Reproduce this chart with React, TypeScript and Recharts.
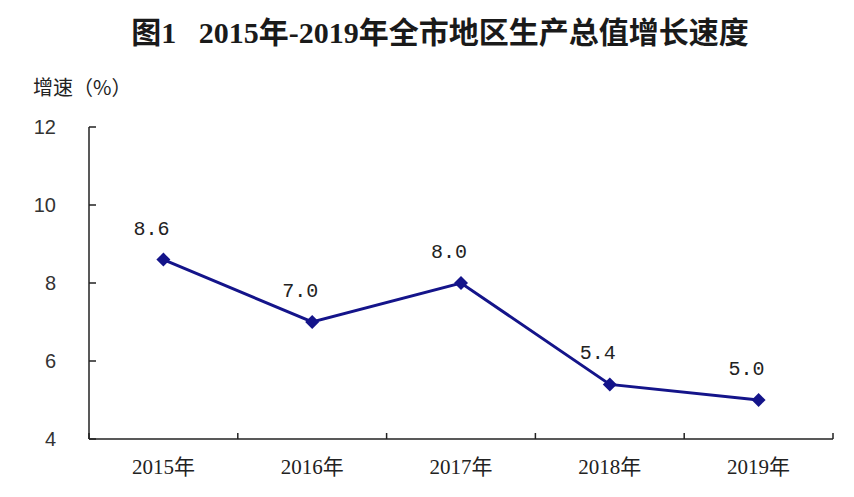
import { LineChart, Line, XAxis, YAxis, LabelList } from "recharts";

const years = ["2015年", "2016年", "2017年", "2018年", "2019年"];
const growth = [8.6, 7.0, 8.0, 5.4, 5.0];
const yTicks = [4, 6, 8, 10, 12];

// points sit in the middle of each year band, ticks on band edges
const data = years.map((year, i) => ({ pos: i + 0.5, year, growth: growth[i] }));
const xTicks = years.flatMap((_, i) => [i, i + 0.5]).concat([years.length]);

const navy = "#14148a";

function XTick(props: any) {
  const { x, y, payload } = props;
  const v = payload.value as number;
  if (Number.isInteger(v)) {
    return <line x1={x} y1={y} x2={x} y2={y - 6} stroke="#222" strokeWidth={1.5} />;
  }
  const label = years[Math.floor(v)];
  return (
    <text x={x} y={y + 35} textAnchor="middle" fontFamily="'Liberation Serif', 'Noto Sans CJK SC'" fontSize={21} fill="#222">
      {label}
    </text>
  );
}

function YTick(props: any) {
  const { x, y, payload } = props;
  return (
    <g>
      <line x1={x} y1={y} x2={x + 7} y2={y} stroke="#222" strokeWidth={1.5} />
      <text x={x - 33} y={y + 7} textAnchor="end" fontFamily="'Liberation Sans', Arial" fontSize={20} fill="#333">
        {payload.value}
      </text>
    </g>
  );
}

function Diamond(props: any) {
  const { cx, cy } = props;
  if (cx == null || cy == null) return null;
  const r = 7;
  return <path d={`M${cx},${cy - r}L${cx + r},${cy}L${cx},${cy + r}L${cx - r},${cy}Z`} fill={navy} />;
}

function ValueLabel(props: any) {
  const { x, y, value } = props;
  return (
    <text x={x - 12} y={y - 25} textAnchor="middle" fontFamily="'Liberation Mono', 'DejaVu Sans Mono'" fontSize={20} fill="#222">
      {Number(value).toFixed(1)}
    </text>
  );
}

export default function App() {
  return (
    <div style={{ position: "absolute", left: 0, top: 0, width: 854, height: 497, background: "#fff" }}>
      <div
        style={{
          position: "absolute",
          top: 17,
          left: 0,
          width: 880,
          textAlign: "center",
          fontFamily: "'Liberation Serif', 'Noto Sans CJK SC'",
          fontWeight: "bold",
          fontSize: 30,
          lineHeight: "32px",
          color: "#1a1a1a",
          whiteSpace: "pre",
        }}
      >
        {"图1   2015年-2019年全市地区生产总值增长速度"}
      </div>
      <div
        style={{
          position: "absolute",
          top: 75,
          left: 33,
          fontFamily: "'Noto Sans CJK SC'",
          fontSize: 20,
          lineHeight: "24px",
          color: "#222",
        }}
      >
        增速（%）
      </div>
      <LineChart width={854} height={497} data={data} margin={{ top: 127, right: 21, left: 0, bottom: 0 }}>
        <XAxis
          dataKey="pos"
          type="number"
          domain={[0, years.length]}
          ticks={xTicks}
          interval={0}
          height={58}
          tickSize={0}
          tickMargin={0}
          tickLine={false}
          axisLine={{ stroke: "#222", strokeWidth: 1.5 }}
          tick={<XTick />}
        />
        <YAxis
          type="number"
          domain={[4, 12]}
          ticks={yTicks}
          interval={0}
          width={89}
          tickSize={0}
          tickMargin={0}
          tickLine={false}
          axisLine={{ stroke: "#222", strokeWidth: 1.5 }}
          tick={<YTick />}
        />
        <Line
          dataKey="growth"
          type="linear"
          stroke={navy}
          strokeWidth={3}
          dot={<Diamond />}
          activeDot={false}
          isAnimationActive={false}
        >
          <LabelList dataKey="growth" content={<ValueLabel />} />
        </Line>
      </LineChart>
    </div>
  );
}
